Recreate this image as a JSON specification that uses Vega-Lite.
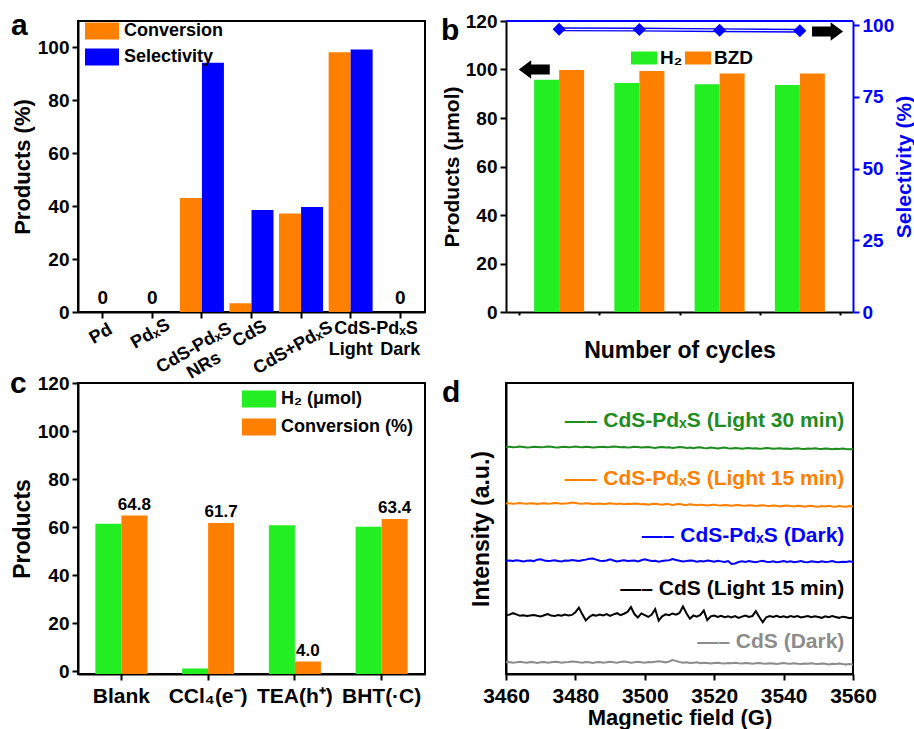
{
 "$schema": "https://vega.github.io/schema/vega-lite/v6.json",
 "background": "white",
 "padding": {"left": 9, "top": 10, "right": 0, "bottom": 0},
 "columns": 2,
 "bounds": "flush",
 "spacing": {"row": 71, "column": 81},
 "resolve": {"scale": {"color": "independent"}, "legend": {"color": "independent"}},
 "config": {
  "font": "Liberation Sans",
  "view": {"stroke": "black", "strokeWidth": 2},
  "axis": {"labelFont": "Liberation Sans", "labelFontSize": 19, "labelFontWeight": "bold", "labelColor": "black", "titleFont": "Liberation Sans", "titleFontSize": 22, "titleFontWeight": "bold", "titleColor": "black", "domainColor": "black", "domainWidth": 2, "tickColor": "black", "tickWidth": 2, "tickSize": 6, "grid": false, "labelPadding": 3, "titlePadding": 3, "labelFlush": false, "labelOverlap": false, "labelBound": false},
  "legend": {"labelFont": "Liberation Sans", "labelFontSize": 18, "labelFontWeight": "bold", "labelColor": "black", "symbolStrokeWidth": 0, "symbolOpacity": 1, "padding": 0, "labelLimit": 300},
  "title": {"font": "Liberation Sans", "fontSize": 30, "fontWeight": "bold", "color": "black", "anchor": "start", "frame": "group", "offset": 0, "baseline": "alphabetic"},
  "text": {"font": "Liberation Sans", "fontWeight": "bold", "color": "black"}
 },
 "datasets": {
  "a": [
   {"cat": "Pd", "series": "Conversion", "value": 0}, {"cat": "Pd", "series": "Selectivity", "value": 0},
   {"cat": "PdₓS", "series": "Conversion", "value": 0}, {"cat": "PdₓS", "series": "Selectivity", "value": 0},
   {"cat": "CdS-PdₓS NRs", "series": "Conversion", "value": 43.1}, {"cat": "CdS-PdₓS NRs", "series": "Selectivity", "value": 94.2},
   {"cat": "CdS", "series": "Conversion", "value": 3.3}, {"cat": "CdS", "series": "Selectivity", "value": 38.6},
   {"cat": "CdS+PdₓS", "series": "Conversion", "value": 37.2}, {"cat": "CdS+PdₓS", "series": "Selectivity", "value": 39.7},
   {"cat": "Light", "series": "Conversion", "value": 98.2}, {"cat": "Light", "series": "Selectivity", "value": 99.2},
   {"cat": "Dark", "series": "Conversion", "value": 0}, {"cat": "Dark", "series": "Selectivity", "value": 0}
  ],
  "alab": [
   {"cat": "Pd", "label": "Pd", "k": "r"},
   {"cat": "PdₓS", "label": "PdₓS", "k": "r"},
   {"cat": "CdS-PdₓS NRs", "label": "CdS-PdₓS\nNRs", "k": "r2"},
   {"cat": "CdS", "label": "CdS", "k": "r"},
   {"cat": "CdS+PdₓS", "label": "CdS+PdₓS", "k": "r2"},
   {"cat": "Light", "label": "Light", "k": "h"},
   {"cat": "Dark", "label": "Dark", "k": "h"}
  ],
  "b": [
   {"cycle": 1, "series": "H₂", "value": 95.8}, {"cycle": 2, "series": "H₂", "value": 94.4}, {"cycle": 3, "series": "H₂", "value": 93.9}, {"cycle": 4, "series": "H₂", "value": 93.6},
   {"cycle": 1, "series": "BZD", "value": 99.8}, {"cycle": 2, "series": "BZD", "value": 99.4}, {"cycle": 3, "series": "BZD", "value": 98.4}, {"cycle": 4, "series": "BZD", "value": 98.3}
  ],
  "bsel": [
   {"cycle": 1, "sel": 98.6}, {"cycle": 2, "sel": 98.5}, {"cycle": 3, "sel": 98.3}, {"cycle": 4, "sel": 98.1}
  ],
  "barrow": [
   {"cycle": 0.69, "value": 100, "dir": "left"},
   {"cycle": 4.345, "value": 115.7, "dir": "right"}
  ],
  "c": [
   {"cat": "Blank", "series": "H₂ (μmol)", "value": 61.4}, {"cat": "Blank", "series": "Conversion (%)", "value": 64.8},
   {"cat": "CCl₄(e⁻)", "series": "H₂ (μmol)", "value": 1.1}, {"cat": "CCl₄(e⁻)", "series": "Conversion (%)", "value": 61.7},
   {"cat": "TEA(h⁺)", "series": "H₂ (μmol)", "value": 60.8}, {"cat": "TEA(h⁺)", "series": "Conversion (%)", "value": 4.0},
   {"cat": "BHT(·C)", "series": "H₂ (μmol)", "value": 60.1}, {"cat": "BHT(·C)", "series": "Conversion (%)", "value": 63.4}
  ],
  "dlab": [
   {"s": "g", "t": "—– CdS-PdₓS (Light 30 min)", "yv": 87},
   {"s": "o", "t": "—– CdS-PdₓS (Light 15 min)", "yv": 67.1},
   {"s": "b", "t": "—– CdS-PdₓS (Dark)", "yv": 47.3},
   {"s": "k", "t": "—– CdS (Light 15 min)", "yv": 29.1},
   {"s": "y", "t": "—– CdS (Dark)", "yv": 11}
  ],
  "d": [
{"B":3460,"g":78.0,"o":58.6,"b":38.9,"k":20.2,"y":4.0},
{"B":3461,"g":78.1,"o":58.7,"b":39.0,"k":20.4,"y":4.1},
{"B":3462,"g":77.9,"o":58.5,"b":38.8,"k":20.9,"y":3.9},
{"B":3463,"g":78.0,"o":58.6,"b":39.1,"k":20.5,"y":4.0},
{"B":3464,"g":78.2,"o":58.8,"b":38.9,"k":20.0,"y":4.2},
{"B":3465,"g":78.0,"o":58.6,"b":38.7,"k":20.2,"y":4.0},
{"B":3466,"g":77.8,"o":58.5,"b":38.9,"k":19.9,"y":3.9},
{"B":3467,"g":77.9,"o":58.7,"b":39.0,"k":20.1,"y":4.1},
{"B":3468,"g":78.1,"o":58.6,"b":38.8,"k":20.3,"y":4.0},
{"B":3469,"g":78.0,"o":58.4,"b":39.3,"k":20.0,"y":3.8},
{"B":3470,"g":77.9,"o":58.6,"b":39.4,"k":19.8,"y":4.0},
{"B":3471,"g":78.0,"o":58.7,"b":39.0,"k":20.2,"y":4.1},
{"B":3472,"g":78.2,"o":58.5,"b":38.8,"k":20.6,"y":3.9},
{"B":3473,"g":78.1,"o":58.6,"b":38.9,"k":20.1,"y":4.0},
{"B":3474,"g":77.9,"o":58.8,"b":39.1,"k":19.9,"y":4.2},
{"B":3475,"g":77.8,"o":58.7,"b":38.8,"k":20.3,"y":4.1},
{"B":3476,"g":78.0,"o":58.5,"b":38.7,"k":20.0,"y":3.9},
{"B":3477,"g":78.1,"o":58.6,"b":39.0,"k":20.4,"y":4.0},
{"B":3478,"g":77.9,"o":58.7,"b":38.9,"k":20.1,"y":4.1},
{"B":3479,"g":78.0,"o":58.9,"b":39.2,"k":20.3,"y":4.3},
{"B":3480,"g":78.2,"o":58.8,"b":39.0,"k":21.2,"y":4.2},
{"B":3481,"g":78.0,"o":58.6,"b":38.8,"k":22.8,"y":4.0},
{"B":3482,"g":77.9,"o":58.5,"b":39.1,"k":20.5,"y":3.9},
{"B":3483,"g":78.1,"o":58.7,"b":39.3,"k":18.4,"y":4.1},
{"B":3484,"g":78.0,"o":58.6,"b":39.6,"k":19.6,"y":4.0},
{"B":3485,"g":77.8,"o":58.4,"b":39.7,"k":20.3,"y":3.8},
{"B":3486,"g":77.9,"o":58.5,"b":39.3,"k":20.0,"y":4.0},
{"B":3487,"g":78.0,"o":58.6,"b":38.9,"k":20.4,"y":4.1},
{"B":3488,"g":78.1,"o":58.4,"b":38.8,"k":20.1,"y":3.9},
{"B":3489,"g":77.9,"o":58.5,"b":39.0,"k":20.6,"y":4.0},
{"B":3490,"g":78.0,"o":58.7,"b":39.4,"k":20.0,"y":4.2},
{"B":3491,"g":78.2,"o":58.5,"b":39.0,"k":20.5,"y":4.0},
{"B":3492,"g":78.1,"o":58.4,"b":38.7,"k":20.9,"y":3.9},
{"B":3493,"g":77.9,"o":58.6,"b":38.9,"k":20.2,"y":4.1},
{"B":3494,"g":78.0,"o":58.3,"b":39.1,"k":20.7,"y":4.3},
{"B":3495,"g":77.8,"o":58.5,"b":38.8,"k":21.3,"y":4.1},
{"B":3496,"g":77.9,"o":58.4,"b":38.9,"k":23.0,"y":3.9},
{"B":3497,"g":78.1,"o":58.6,"b":39.0,"k":20.6,"y":4.0},
{"B":3498,"g":78.0,"o":58.5,"b":38.7,"k":19.4,"y":4.2},
{"B":3499,"g":77.8,"o":58.3,"b":39.1,"k":20.8,"y":4.0},
{"B":3500,"g":77.9,"o":58.4,"b":39.4,"k":20.2,"y":3.9},
{"B":3501,"g":78.0,"o":58.2,"b":39.1,"k":19.6,"y":4.1},
{"B":3502,"g":77.8,"o":58.4,"b":38.8,"k":20.4,"y":4.0},
{"B":3503,"g":77.7,"o":58.5,"b":38.9,"k":22.3,"y":4.2},
{"B":3504,"g":77.9,"o":58.3,"b":38.6,"k":18.3,"y":4.4},
{"B":3505,"g":78.0,"o":58.2,"b":38.8,"k":19.8,"y":4.2},
{"B":3506,"g":77.8,"o":58.4,"b":39.0,"k":20.5,"y":4.0},
{"B":3507,"g":77.9,"o":58.3,"b":39.1,"k":20.2,"y":4.3},
{"B":3508,"g":77.7,"o":58.1,"b":39.5,"k":20.8,"y":4.8},
{"B":3509,"g":77.8,"o":58.3,"b":39.2,"k":20.4,"y":4.5},
{"B":3510,"g":78.0,"o":58.4,"b":38.9,"k":21.0,"y":4.1},
{"B":3511,"g":77.9,"o":58.2,"b":38.7,"k":23.2,"y":3.9},
{"B":3512,"g":77.7,"o":58.1,"b":38.8,"k":20.9,"y":4.0},
{"B":3513,"g":77.8,"o":58.3,"b":39.0,"k":19.0,"y":3.8},
{"B":3514,"g":77.6,"o":58.2,"b":38.9,"k":20.1,"y":3.9},
{"B":3515,"g":77.8,"o":58.0,"b":38.6,"k":19.7,"y":4.0},
{"B":3516,"g":77.9,"o":58.2,"b":38.8,"k":20.3,"y":3.7},
{"B":3517,"g":77.7,"o":58.1,"b":38.7,"k":21.8,"y":3.9},
{"B":3518,"g":77.6,"o":57.9,"b":39.0,"k":18.5,"y":3.8},
{"B":3519,"g":77.8,"o":58.1,"b":38.8,"k":19.8,"y":3.6},
{"B":3520,"g":77.7,"o":58.2,"b":38.6,"k":20.1,"y":3.8},
{"B":3521,"g":77.5,"o":58.0,"b":38.9,"k":19.6,"y":3.9},
{"B":3522,"g":77.7,"o":57.9,"b":38.7,"k":20.0,"y":3.7},
{"B":3523,"g":77.8,"o":58.1,"b":38.5,"k":19.5,"y":3.6},
{"B":3524,"g":77.6,"o":58.0,"b":38.8,"k":19.8,"y":3.8},
{"B":3525,"g":77.5,"o":57.8,"b":37.8,"k":19.4,"y":3.7},
{"B":3526,"g":77.7,"o":58.0,"b":38.0,"k":19.9,"y":3.9},
{"B":3527,"g":77.6,"o":58.1,"b":38.5,"k":19.3,"y":3.7},
{"B":3528,"g":77.4,"o":57.9,"b":38.7,"k":19.7,"y":3.6},
{"B":3529,"g":77.6,"o":57.8,"b":38.5,"k":20.1,"y":3.8},
{"B":3530,"g":77.7,"o":58.0,"b":38.8,"k":19.6,"y":3.7},
{"B":3531,"g":77.5,"o":57.9,"b":38.6,"k":19.9,"y":3.5},
{"B":3532,"g":77.6,"o":57.7,"b":38.4,"k":21.6,"y":3.7},
{"B":3533,"g":77.4,"o":57.9,"b":38.7,"k":19.6,"y":3.8},
{"B":3534,"g":77.5,"o":58.0,"b":38.9,"k":17.8,"y":3.6},
{"B":3535,"g":77.7,"o":57.8,"b":38.6,"k":19.5,"y":3.5},
{"B":3536,"g":77.6,"o":57.7,"b":38.5,"k":19.9,"y":3.7},
{"B":3537,"g":77.4,"o":57.9,"b":38.7,"k":19.6,"y":3.6},
{"B":3538,"g":77.5,"o":57.8,"b":38.4,"k":20.0,"y":3.4},
{"B":3539,"g":77.6,"o":57.6,"b":38.6,"k":19.5,"y":3.6},
{"B":3540,"g":77.4,"o":57.8,"b":38.8,"k":19.8,"y":3.8},
{"B":3541,"g":77.5,"o":57.9,"b":38.5,"k":19.4,"y":3.6},
{"B":3542,"g":77.3,"o":57.7,"b":38.7,"k":19.9,"y":3.5},
{"B":3543,"g":77.5,"o":57.6,"b":38.4,"k":19.6,"y":3.7},
{"B":3544,"g":77.6,"o":57.8,"b":38.6,"k":19.9,"y":3.5},
{"B":3545,"g":77.4,"o":57.7,"b":38.8,"k":19.4,"y":3.4},
{"B":3546,"g":77.3,"o":57.5,"b":38.5,"k":19.7,"y":3.6},
{"B":3547,"g":77.5,"o":57.7,"b":38.4,"k":19.9,"y":3.5},
{"B":3548,"g":77.4,"o":57.8,"b":38.7,"k":19.5,"y":3.7},
{"B":3549,"g":77.6,"o":57.6,"b":38.6,"k":19.8,"y":3.5},
{"B":3550,"g":77.4,"o":57.5,"b":38.4,"k":19.6,"y":3.4},
{"B":3551,"g":77.3,"o":57.7,"b":38.7,"k":19.3,"y":3.6},
{"B":3552,"g":77.5,"o":57.6,"b":38.5,"k":19.8,"y":3.5},
{"B":3553,"g":77.4,"o":57.8,"b":38.6,"k":19.5,"y":3.3},
{"B":3554,"g":77.2,"o":57.6,"b":38.8,"k":19.9,"y":3.5},
{"B":3555,"g":77.4,"o":57.5,"b":38.5,"k":19.6,"y":3.4},
{"B":3556,"g":77.3,"o":57.7,"b":38.4,"k":19.3,"y":3.6},
{"B":3557,"g":77.5,"o":57.6,"b":38.6,"k":19.7,"y":3.4},
{"B":3558,"g":77.3,"o":57.5,"b":38.5,"k":19.5,"y":3.3},
{"B":3559,"g":77.2,"o":57.7,"b":38.7,"k":19.2,"y":3.4},
{"B":3560,"g":77.3,"o":57.6,"b":38.5,"k":19.4,"y":3.3}
  ]
 },
 "concat": [
  {
   "width": 347, "height": 291,
   "title": {"text": "a", "dx": -67, "dy": 31},
   "layer": [
    {
     "data": {"name": "a"},
     "transform": [{"filter": "datum.series == 'Conversion'"}],
     "mark": {"type": "bar", "width": 22, "xOffset": -11},
     "encoding": {
      "x": {"field": "cat", "type": "nominal", "scale": {"domain": ["Pd", "PdₓS", "CdS-PdₓS NRs", "CdS", "CdS+PdₓS", "Light", "Dark"], "paddingInner": 0.1, "paddingOuter": 0.05}, "axis": {"labels": false, "title": null, "tickSize": 6}},
      "y": {"field": "value", "type": "quantitative", "scale": {"domain": [0, 110], "nice": false}, "axis": {"title": "Products (%)", "values": [0, 10, 20, 30, 40, 50, 60, 70, 80, 90, 100], "labelExpr": "datum.value % 20 == 0 ? datum.label : ''", "tickSize": {"condition": {"test": "datum.value % 20 != 0", "value": 3}, "value": 6}}},
      "color": {"field": "series", "type": "nominal", "scale": {"domain": ["Conversion", "Selectivity"], "range": ["#ff8000", "#0000ff"]}, "legend": {"title": null, "orient": "none", "legendX": 7, "legendY": -7, "symbolType": "M-1,-0.5L1,-0.5L1,0.5L-1,0.5Z", "symbolSize": 1156, "labelOffset": 5, "rowPadding": -9}}
     }
    },
    {
     "data": {"name": "a"},
     "transform": [{"filter": "datum.series == 'Selectivity'"}],
     "mark": {"type": "bar", "width": 22, "xOffset": 11},
     "encoding": {
      "x": {"field": "cat", "type": "nominal"},
      "y": {"field": "value", "type": "quantitative"},
      "color": {"field": "series", "type": "nominal"}
     }
    },
    {
     "data": {"name": "a"},
     "transform": [{"filter": "datum.series == 'Conversion' && datum.value == 0"}],
     "mark": {"type": "text", "fontSize": 19, "baseline": "bottom", "dy": -4},
     "encoding": {"x": {"field": "cat", "type": "nominal"}, "y": {"datum": 0, "type": "quantitative"}, "text": {"value": "0"}}
    },
    {
     "data": {"name": "alab"},
     "transform": [{"filter": "datum.k == 'r'"}],
     "mark": {"type": "text", "angle": -30, "fontSize": 18, "align": "center", "baseline": "middle", "dx": -2},
     "encoding": {"x": {"field": "cat", "type": "nominal"}, "y": {"datum": -8, "type": "quantitative"}, "text": {"field": "label"}}
    },
    {
     "data": {"name": "alab"},
     "transform": [{"filter": "datum.k == 'r2'"}],
     "mark": {"type": "text", "angle": -30, "fontSize": 18, "align": "center", "baseline": "middle", "lineBreak": "\n", "dx": -9},
     "encoding": {"x": {"field": "cat", "type": "nominal"}, "y": {"datum": -12, "type": "quantitative"}, "text": {"field": "label"}}
    },
    {
     "data": {"name": "alab"},
     "transform": [{"filter": "datum.k == 'h'"}],
     "mark": {"type": "text", "fontSize": 18, "align": "center", "baseline": "middle"},
     "encoding": {"x": {"field": "cat", "type": "nominal"}, "y": {"datum": -14.5, "type": "quantitative"}, "text": {"field": "label"}}
    },
    {
     "data": {"values": [{"cat": "Light", "label": "CdS-PdₓS"}]},
     "mark": {"type": "text", "fontSize": 18, "align": "center", "baseline": "middle", "dx": 3},
     "encoding": {"x": {"field": "cat", "type": "nominal", "bandPosition": 1}, "y": {"datum": -6.5, "type": "quantitative"}, "text": {"field": "label"}}
    }
   ]
  },
  {
   "width": 347, "height": 291,
   "title": {"text": "b", "dx": -65, "dy": 38},
   "view": {"stroke": null},
   "layer": [
    {
     "layer": [
      {
       "data": {"name": "b"},
       "transform": [{"filter": "datum.series == 'H₂'"}],
       "mark": {"type": "bar", "width": 25, "xOffset": -12.5},
       "encoding": {
        "x": {"field": "cycle", "type": "quantitative", "scale": {"domain": [0.4, 4.6], "nice": false}, "axis": {"title": "Number of cycles", "titleFontSize": 23, "titlePadding": 1, "format": "d", "values": [0.5, 1, 1.5, 2, 2.5, 3, 3.5, 4, 4.5], "labelExpr": "datum.value % 1 == 0 ? datum.label : ''", "tickSize": {"condition": {"test": "datum.value % 1 != 0", "value": 3}, "value": 6}, "labelFontSize": 20}},
        "y": {"field": "value", "type": "quantitative", "scale": {"domain": [0, 120], "nice": false}, "axis": {"title": "Products (μmol)", "titleFontSize": 21, "values": [0, 10, 20, 30, 40, 50, 60, 70, 80, 90, 100, 110, 120], "labelExpr": "datum.value % 20 == 0 ? datum.label : ''", "tickSize": {"condition": {"test": "datum.value % 20 != 0", "value": 3}, "value": 6}}},
        "color": {"field": "series", "type": "nominal", "scale": {"domain": ["H₂", "BZD"], "range": ["#22ee22", "#ff8000"]}, "legend": {"title": null, "orient": "none", "direction": "horizontal", "legendX": 125, "legendY": 24, "symbolType": "M-1,-0.5L1,-0.5L1,0.5L-1,0.5Z", "symbolSize": 676, "labelOffset": 3, "columnPadding": 2, "labelFontSize": 19}}
       }
      },
      {
       "data": {"name": "b"},
       "transform": [{"filter": "datum.series == 'BZD'"}],
       "mark": {"type": "bar", "width": 25, "xOffset": 12.5},
       "encoding": {
        "x": {"field": "cycle", "type": "quantitative"},
        "y": {"field": "value", "type": "quantitative"},
        "color": {"field": "series", "type": "nominal"}
       }
      },
      {
       "data": {"name": "barrow"},
       "transform": [{"filter": "datum.dir == 'left'"}],
       "mark": {"type": "point", "shape": "M-1,0L-0.2,-0.6L-0.2,-0.32L1,-0.32L1,0.32L-0.2,0.32L-0.2,0.6Z", "size": 961, "filled": true, "color": "black", "opacity": 1},
       "encoding": {"x": {"field": "cycle", "type": "quantitative"}, "y": {"field": "value", "type": "quantitative"}}
      },
      {
       "data": {"name": "barrow"},
       "transform": [{"filter": "datum.dir == 'right'"}],
       "mark": {"type": "point", "shape": "M1,0L0.2,-0.6L0.2,-0.32L-1,-0.32L-1,0.32L0.2,0.32L0.2,0.6Z", "size": 961, "filled": true, "color": "black", "opacity": 1},
       "encoding": {"x": {"field": "cycle", "type": "quantitative"}, "y": {"field": "value", "type": "quantitative"}}
      },
      {
       "data": {"values": [{}]},
       "mark": {"type": "rule", "color": "#0000ff", "strokeWidth": 2},
       "encoding": {"y": {"datum": 120, "type": "quantitative"}}
      }
     ]
    },
    {
     "layer": [
      {
       "data": {"name": "bsel"},
       "mark": {"type": "line", "color": "#0000ff", "strokeWidth": 4},
       "encoding": {
        "x": {"field": "cycle", "type": "quantitative"},
        "y": {"field": "sel", "type": "quantitative", "scale": {"domain": [0, 101.5], "nice": false}, "axis": {"orient": "right", "title": "Selectivity (%)", "titleFontSize": 21, "titleAngle": 270, "titleBaseline": "top", "titlePadding": 0, "domainColor": "#0000ff", "tickColor": "#0000ff", "labelColor": "#0000ff", "titleColor": "#0000ff", "labelPadding": 3, "values": [0, 12.5, 25, 37.5, 50, 62.5, 75, 87.5, 100], "labelExpr": "datum.value % 25 == 0 ? datum.label : ''", "tickSize": {"condition": {"test": "datum.value % 25 != 0", "value": 3}, "value": 6}}}
       }
      },
      {
       "data": {"name": "bsel"},
       "mark": {"type": "line", "color": "white", "strokeWidth": 1.2},
       "encoding": {"x": {"field": "cycle", "type": "quantitative"}, "y": {"field": "sel", "type": "quantitative"}}
      },
      {
       "data": {"name": "bsel"},
       "mark": {"type": "point", "shape": "diamond", "filled": true, "size": 170, "color": "#0000ff", "opacity": 1},
       "encoding": {"x": {"field": "cycle", "type": "quantitative"}, "y": {"field": "sel", "type": "quantitative"}}
      }
     ]
    }
   ],
   "resolve": {"scale": {"y": "independent"}}
  },
  {
   "width": 347, "height": 291,
   "title": {"text": "c", "dx": -68, "dy": 29},
   "layer": [
    {
     "data": {"name": "c"},
     "transform": [{"filter": "datum.series == 'H₂ (μmol)'"}],
     "mark": {"type": "bar", "width": 26, "xOffset": -13},
     "encoding": {
      "x": {"field": "cat", "type": "nominal", "scale": {"domain": ["Blank", "CCl₄(e⁻)", "TEA(h⁺)", "BHT(·C)"], "paddingInner": 0.4, "paddingOuter": 0.2}, "axis": {"title": null, "labelAngle": 0, "labelFontSize": 21, "labelPadding": 5}},
      "y": {"field": "value", "type": "quantitative", "scale": {"domain": [-1.2, 120], "nice": false}, "axis": {"title": "Products", "titleFontSize": 23, "values": [0, 10, 20, 30, 40, 50, 60, 70, 80, 90, 100, 110, 120], "labelExpr": "datum.value % 20 == 0 ? datum.label : ''", "tickSize": {"condition": {"test": "datum.value % 20 != 0", "value": 3}, "value": 6}}},
      "y2": {"datum": -1.2},
      "color": {"field": "series", "type": "nominal", "scale": {"domain": ["H₂ (μmol)", "Conversion (%)"], "range": ["#22ee22", "#ff8000"]}, "legend": {"title": null, "orient": "none", "legendX": 164, "legendY": -1, "symbolType": "M-1,-0.5L1,-0.5L1,0.5L-1,0.5Z", "symbolSize": 1156, "labelOffset": 5, "rowPadding": 2}}
     }
    },
    {
     "data": {"name": "c"},
     "transform": [{"filter": "datum.series == 'Conversion (%)'"}],
     "mark": {"type": "bar", "width": 26, "xOffset": 13},
     "encoding": {
      "x": {"field": "cat", "type": "nominal"},
      "y": {"field": "value", "type": "quantitative"},
      "y2": {"datum": -1.2},
      "color": {"field": "series", "type": "nominal"}
     }
    },
    {
     "data": {"name": "c"},
     "transform": [{"filter": "datum.series == 'Conversion (%)'"}],
     "mark": {"type": "text", "fontSize": 17, "baseline": "bottom", "dy": -2, "dx": 13},
     "encoding": {
      "x": {"field": "cat", "type": "nominal"},
      "y": {"field": "value", "type": "quantitative"},
      "text": {"field": "value", "type": "quantitative", "format": ".1f"}
     }
    }
   ]
  },
  {
   "width": 347, "height": 291,
   "title": {"text": "d", "dx": -64, "dy": 29},
   "layer": [
    {
     "data": {"name": "d"},
     "transform": [{"fold": ["g", "o", "b", "k", "y"], "as": ["s", "I"]}],
     "mark": {"type": "line", "strokeWidth": 2},
     "encoding": {
      "x": {"field": "B", "type": "quantitative", "scale": {"domain": [3460, 3560], "nice": false, "zero": false}, "axis": {"title": "Magnetic field (G)", "titleFontSize": 22, "titlePadding": 1, "labelPadding": 5, "format": "d", "labelFontSize": 21, "values": [3460, 3470, 3480, 3490, 3500, 3510, 3520, 3530, 3540, 3550, 3560], "labelExpr": "datum.value % 20 == 0 ? datum.label : ''", "tickSize": {"condition": {"test": "datum.value % 20 != 0", "value": 3}, "value": 6}}},
      "y": {"field": "I", "type": "quantitative", "scale": {"domain": [0, 100], "nice": false}, "axis": {"title": "Intensity (a.u.)", "titleFontSize": 23, "labels": false, "ticks": false, "titlePadding": 13}},
      "color": {"field": "s", "type": "nominal", "scale": {"domain": ["g", "o", "b", "k", "y"], "range": ["#1e8c1e", "#ff8000", "#0000ff", "#000000", "#8c8c8c"]}, "legend": null}
     }
    },
    {
     "data": {"name": "dlab"},
     "mark": {"type": "text", "align": "right", "baseline": "middle", "fontSize": 21},
     "encoding": {
      "x": {"datum": 3557.5, "type": "quantitative"},
      "y": {"field": "yv", "type": "quantitative"},
      "text": {"field": "t"},
      "color": {"field": "s", "type": "nominal"}
     }
    }
   ]
  }
 ]
}
